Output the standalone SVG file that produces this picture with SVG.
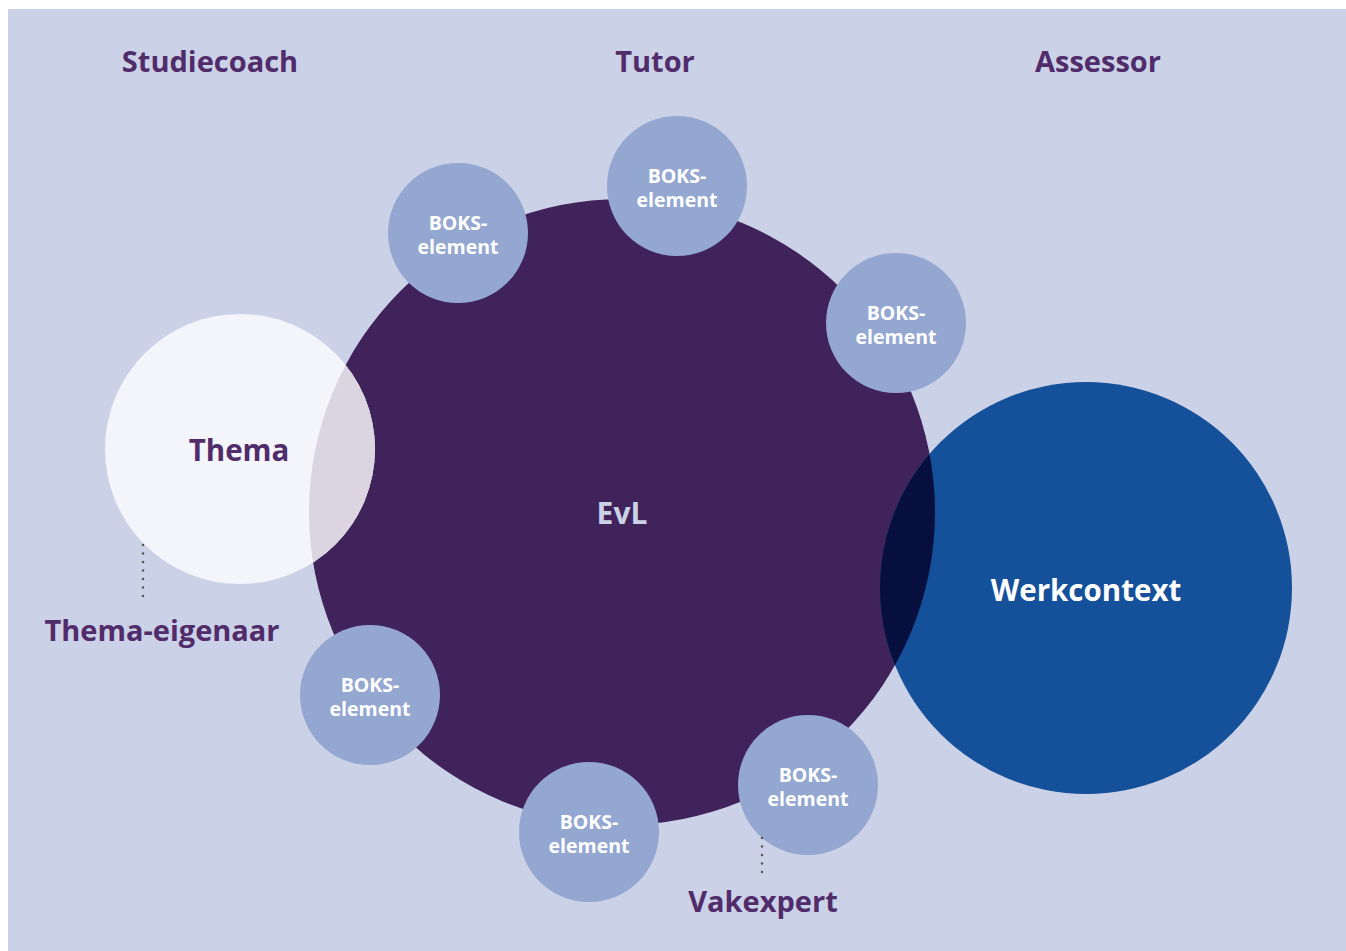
<svg xmlns="http://www.w3.org/2000/svg" width="1346" height="951" viewBox="0 0 1346 951">
<style>
.lbl{font-family:"Open Sans","Noto Sans",sans-serif;font-weight:700;fill:#512C6B;text-anchor:middle}
.boks{fill:#93A7D1}
.bt{font-family:"Open Sans","Noto Sans",sans-serif;font-weight:700;fill:#FFFFFF;font-size:19.5px;text-anchor:middle}
.dot{stroke:#555;stroke-width:2.5;stroke-linecap:round;stroke-dasharray:0 8.5;fill:none}
</style>
<defs>
<clipPath id="clipEvL"><circle cx="622" cy="512" r="313"/></clipPath>
</defs>
<rect x="0" y="0" width="1346" height="951" fill="#FFFFFF"/>
<rect x="8" y="9" width="1338" height="942" fill="#CBD1E7"/>
<g id="headers">
<text class="lbl" x="210" y="72" font-size="29">Studiecoach</text>
<text class="lbl" x="655" y="72" font-size="29">Tutor</text>
<text class="lbl" x="1098" y="72" font-size="29">Assessor</text>
</g>
<g id="evl">
<circle cx="622" cy="512" r="313" fill="#40235A"/>
</g>
<g id="thema">
<circle cx="240" cy="449" r="135" fill="#F4F5FA"/>
<circle cx="240" cy="449" r="135" fill="#DAD5E0" clip-path="url(#clipEvL)"/>
<text class="lbl" x="239" y="461" font-size="29.5">Thema</text>
</g>
<g id="werkcontext">
<circle cx="1086" cy="588" r="206" fill="#15509A"/>
<circle cx="1086" cy="588" r="206" fill="#060F3E" clip-path="url(#clipEvL)"/>
<text x="1086" y="601" font-family="Open Sans, Noto Sans, sans-serif" font-weight="700" font-size="29.5" fill="#FFFFFF" text-anchor="middle">Werkcontext</text>
</g>
<text x="622" y="524" font-family="Open Sans, Noto Sans, sans-serif" font-weight="700" font-size="30" fill="#CBD1E7" text-anchor="middle">EvL</text>
<g id="boks1"><circle class="boks" cx="458" cy="233" r="70"/><text class="bt" x="458" y="230">BOKS-</text><text class="bt" x="458" y="254">element</text></g>
<g id="boks2"><circle class="boks" cx="677" cy="186" r="70"/><text class="bt" x="677" y="183">BOKS-</text><text class="bt" x="677" y="207">element</text></g>
<g id="boks3"><circle class="boks" cx="896" cy="323" r="70"/><text class="bt" x="896" y="320">BOKS-</text><text class="bt" x="896" y="344">element</text></g>
<g id="boks4"><circle class="boks" cx="370" cy="695" r="70"/><text class="bt" x="370" y="692">BOKS-</text><text class="bt" x="370" y="716">element</text></g>
<g id="boks5"><circle class="boks" cx="589" cy="832" r="70"/><text class="bt" x="589" y="829">BOKS-</text><text class="bt" x="589" y="853">element</text></g>
<g id="boks6"><circle class="boks" cx="808" cy="785" r="70"/><text class="bt" x="808" y="782">BOKS-</text><text class="bt" x="808" y="806">element</text></g>
<g id="connectors">
<line class="dot" x1="143" y1="545" x2="143" y2="600"/>
<line class="dot" x1="762" y1="838" x2="762" y2="876"/>
</g>
<g id="roles">
<text class="lbl" x="162" y="641" font-size="29">Thema-eigenaar</text>
<text class="lbl" x="763" y="912" font-size="29">Vakexpert</text>
</g>
</svg>
